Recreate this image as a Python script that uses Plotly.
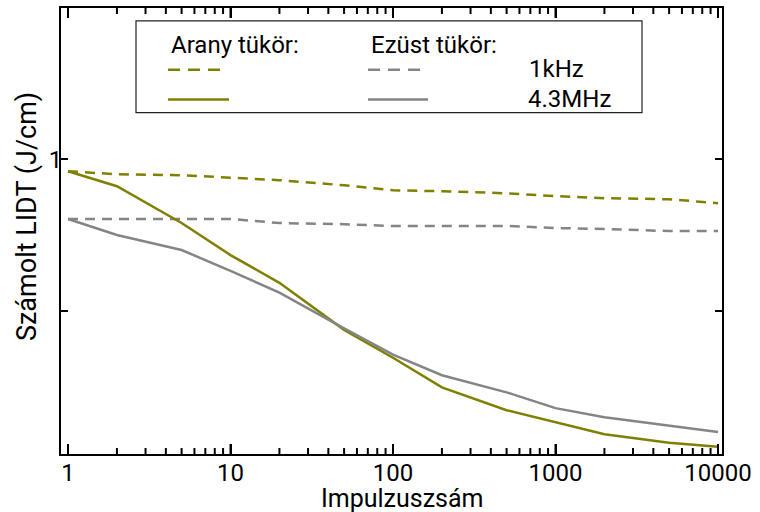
import math
import plotly.graph_objects as go

# Pulse counts (x) and computed LIDT values (y, J/cm)
pulses = [1, 2, 5, 10, 20, 50, 100, 200, 500, 1000, 2000, 5000, 10000]

gold_1khz = [0.947, 0.934, 0.930, 0.921, 0.909, 0.888, 0.868, 0.864, 0.856, 0.845, 0.837, 0.833, 0.818]
gold_43mhz = [0.947, 0.884, 0.747, 0.645, 0.568, 0.458, 0.403, 0.352, 0.317, 0.300, 0.284, 0.273, 0.268]
silver_1khz = [0.761, 0.761, 0.761, 0.761, 0.747, 0.743, 0.737, 0.737, 0.737, 0.730, 0.727, 0.720, 0.720]
silver_43mhz = [0.761, 0.707, 0.660, 0.600, 0.543, 0.461, 0.409, 0.372, 0.344, 0.320, 0.307, 0.296, 0.287]

x_ticks = [1, 10, 100, 1000, 10000]
x_tick_labels = ["1", "10", "100", "1000", "10000"]
x_minor_ticks = [m * d for d in (1, 10, 100, 1000) for m in range(2, 10)]
y_ticks = [0.5, 1]
y_tick_labels = ["", "1"]

GOLD = "#808000"
GRAY = "#858585"
FONT = "Roboto"
DASH = "10px,7px"
X_RANGE = [-0.0431, 4.0246]
Y_RANGE = [-0.5861, 0.30103]

W, H = 760, 512
L, R, T, B = 61, 38, 6, 58
pw, ph = W - L - R, H - T - B


def px(xp):
    return (xp - L) / pw


def py(yp):
    return (H - B - yp) / ph


def y_at(frac):
    """Data value on the log y axis at a fraction of the plot height."""
    return 10 ** (Y_RANGE[0] + frac * (Y_RANGE[1] - Y_RANGE[0]))


def tick_segments(values, length_px):
    """Vertical tick segments on the bottom and top frame edges."""
    f = length_px / ph
    xs, ys = [], []
    for v in values:
        xs += [v, v, None, v, v, None]
        ys += [y_at(0), y_at(f), None, y_at(1 - f), y_at(1), None]
    return xs, ys


fig = go.Figure()
fig.add_trace(go.Scatter(x=pulses, y=gold_1khz, mode="lines",
                         line=dict(color=GOLD, width=2.5, dash=DASH)))
fig.add_trace(go.Scatter(x=pulses, y=silver_1khz, mode="lines",
                         line=dict(color=GRAY, width=2.5, dash=DASH)))
fig.add_trace(go.Scatter(x=pulses, y=gold_43mhz, mode="lines",
                         line=dict(color=GOLD, width=2.5)))
fig.add_trace(go.Scatter(x=pulses, y=silver_43mhz, mode="lines",
                         line=dict(color=GRAY, width=2.5)))

# x tick marks: minor (2..9 per decade) and major (decades), bottom and top
for vals, ln in ((x_minor_ticks, 6), (x_ticks, 10)):
    tx, ty = tick_segments(vals, ln)
    fig.add_trace(go.Scatter(x=tx, y=ty, mode="lines", hoverinfo="skip",
                             connectgaps=False, line=dict(color="black", width=2)))

fig.update_layout(
    width=W, height=H,
    margin=dict(l=L, r=R, t=T, b=B, pad=0),
    paper_bgcolor="white", plot_bgcolor="white",
    showlegend=False,
    font=dict(family=FONT, size=24, color="black"),
    xaxis=dict(
        type="log", range=X_RANGE,
        tickmode="array", tickvals=x_ticks, ticktext=x_tick_labels,
        ticks="inside", ticklen=10, tickwidth=2, tickcolor="black",
        ticklabelstandoff=-4,
        showline=True, linecolor="black", linewidth=2, mirror="allticks",
        showgrid=False, zeroline=False,
        tickfont=dict(family=FONT, size=24, color="black"),
    ),
    yaxis=dict(
        type="log", range=Y_RANGE,
        tickmode="array", tickvals=y_ticks, ticktext=y_tick_labels,
        ticks="inside", ticklen=7, tickwidth=2, tickcolor="black",
        ticklabelstandoff=-8,
        showline=True, linecolor="black", linewidth=2, mirror="allticks",
        showgrid=False, zeroline=False,
        tickfont=dict(family=FONT, size=24, color="black"),
    ),
)

annotations = [
    dict(text="Impulzuszsám", x=px(402), y=py(499), xref="paper", yref="paper",
         xanchor="center", yanchor="middle", showarrow=False,
         font=dict(family=FONT, size=25, color="black")),
    dict(text="Számolt LIDT (J/cm)", x=px(27), y=py(216), xref="paper", yref="paper",
         xanchor="center", yanchor="middle", textangle=-90, showarrow=False,
         font=dict(family=FONT, size=27, color="black")),
    dict(text="Arany tükör:", x=px(169), y=py(43), xref="paper", yref="paper",
         xanchor="left", yanchor="middle", showarrow=False,
         font=dict(family=FONT, size=24, color="black")),
    dict(text="Ezüst tükör:", x=px(369), y=py(43), xref="paper", yref="paper",
         xanchor="left", yanchor="middle", showarrow=False,
         font=dict(family=FONT, size=24, color="black")),
    dict(text="1kHz", x=px(527), y=py(67), xref="paper", yref="paper",
         xanchor="left", yanchor="middle", showarrow=False,
         font=dict(family=FONT, size=24, color="black")),
    dict(text="4.3MHz", x=px(526), y=py(97), xref="paper", yref="paper",
         xanchor="left", yanchor="middle", showarrow=False,
         font=dict(family=FONT, size=24, color="black")),
]

shapes = [
    dict(type="rect", xref="paper", yref="paper",
         x0=px(136), x1=px(642), y0=py(111), y1=py(19),
         line=dict(color="#222222", width=1.2), fillcolor="white", layer="above"),
    dict(type="line", xref="paper", yref="paper", x0=px(168), x1=px(225), y0=py(68), y1=py(68),
         line=dict(color=GOLD, width=2.5, dash="12px,8px")),
    dict(type="line", xref="paper", yref="paper", x0=px(168), x1=px(229), y0=py(98), y1=py(98),
         line=dict(color=GOLD, width=2.5)),
    dict(type="line", xref="paper", yref="paper", x0=px(368), x1=px(423), y0=py(68), y1=py(68),
         line=dict(color=GRAY, width=2.5, dash="12px,8px")),
    dict(type="line", xref="paper", yref="paper", x0=px(368), x1=px(428), y0=py(98), y1=py(98),
         line=dict(color=GRAY, width=2.5)),
]

fig.update_layout(annotations=annotations, shapes=shapes)

fig.write_html("out.html")
